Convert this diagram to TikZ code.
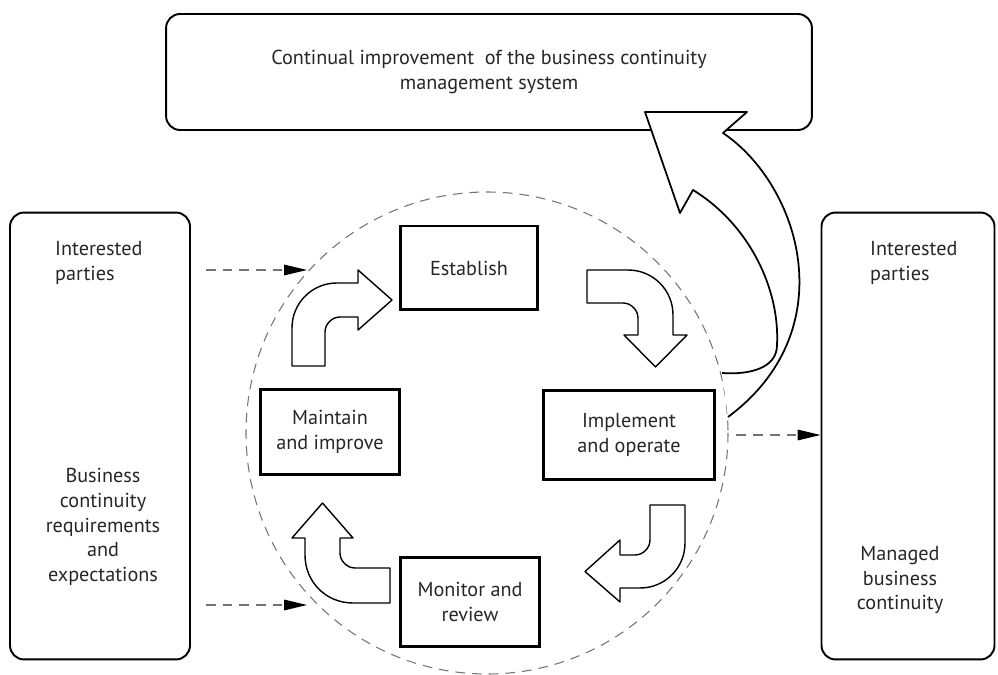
\documentclass[tikz,border=0pt]{standalone}
\usepackage{fontspec}
\setmainfont{PT Sans}
\usetikzlibrary{arrows.meta}
\definecolor{grisline}{gray}{0.45}
\definecolor{textgray}{gray}{0.15}
\tikzset{
  frame/.style={rectangle, draw, line width=1.1pt, rounded corners=8pt},
  stage/.style={rectangle, draw, line width=1.7pt, align=center, inner sep=2pt},
  bentarrow/.style={draw, line width=0.8pt, fill=white, line join=round},
  bigarrow/.style={draw, line width=1pt, fill=white, line join=round},
  dasharrow/.style={grisline, line width=0.7pt, dash pattern=on 5.5pt off 4pt,
    -{Triangle[length=13pt, width=6pt, color=black]}},
}

\begin{document}
\begin{tikzpicture}[x=0.02cm, y=-0.02cm, font=\fontsize{11.5}{14}\selectfont, text=textgray]
    \useasboundingbox (0,0) rectangle (998,675);
    % dashed cycle
    \draw[grisline, line width=0.6pt, dash pattern=on 5.5pt off 4pt] (487,433) circle [radius=241];
    % outer frames
    \node[frame, minimum width=12.92cm, minimum height=2.32cm, align=center] (top) at (489,72)
      {Continual improvement~ of the business continuity\\management system};
    \node[frame, minimum width=3.6cm, minimum height=8.94cm] (lbox) at (100,436) {};
    \node[frame, minimum width=3.46cm, minimum height=8.94cm] (rbox) at (908,436) {};
    \node[anchor=west, align=left] (lint) at (49,263) {Interested\\parties};
    \node[align=center] (lreq) at (103,527) {Business\\continuity\\requirements\\and\\expectations};
    \node[anchor=west, align=left] (rint) at (864,263) {Interested\\parties};
    \node[align=center] (rman) at (900,580) {Managed\\business\\continuity};
    % stages
    \node[stage, minimum width=2.76cm, minimum height=1.68cm] (est) at (469,268) {Establish};
    \node[stage, minimum width=2.8cm, minimum height=1.7cm] (mai) at (330,432) {Maintain\\and improve};
    \node[stage, minimum width=3.44cm, minimum height=1.8cm] (imp) at (629,435) {Implement\\and operate};
    \node[stage, minimum width=2.8cm, minimum height=1.8cm] (mon) at (470,602) {Monitor and\\review};
    % bent arrows between stages
    \draw[bentarrow] (292,366) -- (292,328) .. controls (292,303) and (312,283) .. (337,283) -- (358,283)
      -- (358,270) -- (392,300) -- (358,330) -- (358,317) -- (340,317)
      .. controls (332,317) and (325,324) .. (325,332) -- (325,366) -- cycle;
    \draw[bentarrow] (587,270) -- (628,270) .. controls (653,270) and (673,290) .. (673,315) -- (673,335)
      -- (687,335) -- (655.5,367) -- (624,335) -- (638,335) -- (638,318)
      .. controls (638,310) and (631,303) .. (623,303) -- (587,303) -- cycle;
    \draw[bentarrow] (685,505) -- (685,543) .. controls (685,568) and (665,588) .. (640,588) -- (620,588)
      -- (620,602) -- (585,571.5) -- (620,540) -- (620,555) -- (635,555)
      .. controls (643,555) and (650,548) .. (650,540) -- (650,505) -- cycle;
    \draw[bentarrow] (390,603) -- (353,603) .. controls (326,603) and (305,582) .. (305,555) -- (305,538)
      -- (292,538) -- (322.5,503) -- (353,538) -- (340,538) -- (340,553)
      .. controls (340,561) and (347,568) .. (355,568) -- (390,568) -- cycle;
    % improvement arrow
    \draw[bigarrow] (722,373) .. controls (750,375) and (777,368) .. (777,345)
      .. controls (780,290) and (750,225) .. (693,190) -- (680,213) -- (645,112) -- (747,112) -- (723,133)
      .. controls (800,185) and (845,330) .. (728,417);
    % inputs and outputs
    \coordinate (p1) at (307,270);
    \coordinate (p2) at (307,605);
    \draw[dasharrow, shorten <=0.3cm] (lbox.east |- p1) -- (p1);
    \draw[dasharrow, shorten <=0.3cm] (lbox.east |- p2) -- (p2);
    \draw[dasharrow, shorten <=0.4cm] (imp.east) -- (rbox.west |- imp.east);
\end{tikzpicture}
\end{document}
